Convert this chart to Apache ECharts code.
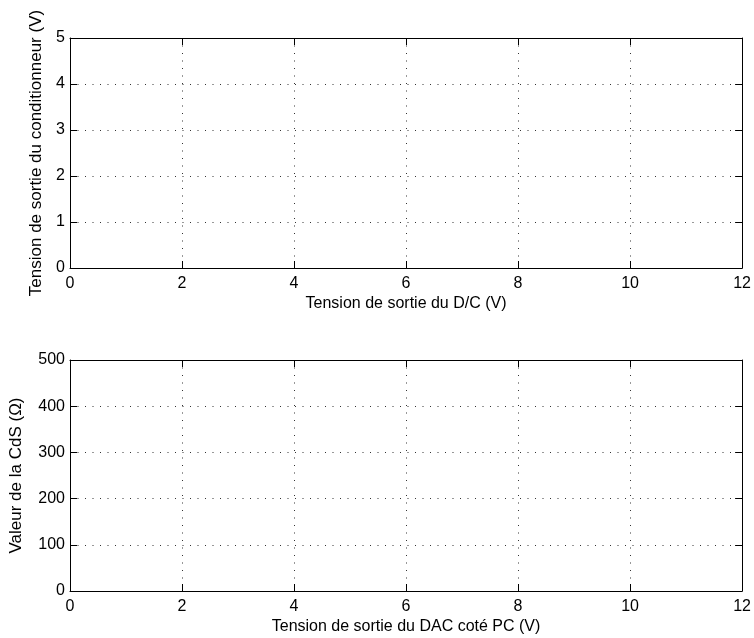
<!DOCTYPE html>
<html>
<head>
<meta charset="utf-8">
<script src="https://cdn.jsdelivr.net/npm/echarts@6/dist/echarts.min.js"></script>
<style>html,body{margin:0;padding:0;background:#fff}#c{width:754px;height:638px}</style>
</head>
<body>
<div id="c"></div>
<script>
// Top panel
var topXMin = 0, topXMax = 12, topXInterval = 2;
var topYMin = 0, topYMax = 5, topYInterval = 1;
var topXLabel = 'Tension de sortie du D/C (V)';
var topYLabel = 'Tension de sortie du conditionneur (V)';
var topSeriesX = [];
var topSeriesY = [];
// Bottom panel
var botXMin = 0, botXMax = 12, botXInterval = 2;
var botYMin = 0, botYMax = 500, botYInterval = 100;
var botXLabel = 'Tension de sortie du DAC coté PC (V)';
var botYLabel = 'Valeur de la CdS (Ω)';
var botSeriesX = [];
var botSeriesY = [];

function pairs(xs, ys){ return xs.map(function(x,i){return [x, ys[i]];}); }

var FONT = 'Liberation Sans, Arial, Helvetica, sans-serif';
var gridLine = {show:true, lineStyle:{color:'#333', type:[1,6.5], width:1}};
var axisLine = {show:true, onZero:false, lineStyle:{color:'#000', width:1}};
var tick = {show:true, inside:true, length:7, lineStyle:{color:'#000'}};
var lbl = {color:'#000', fontFamily:FONT, fontSize:16};

function mainX(gi, min, max, iv, name, gap){
  return {type:'value', gridIndex:gi, min:min, max:max, interval:iv, position:'bottom',
    name:name, nameLocation:'middle', nameGap:gap,
    nameTextStyle:{color:'#000', fontFamily:FONT, fontSize:16},
    axisLine:axisLine, axisTick:tick, axisLabel:Object.assign({margin:8}, lbl), splitLine:gridLine};
}
function boxX(gi, min, max, iv){
  return {type:'value', gridIndex:gi, min:min, max:max, interval:iv, position:'top',
    axisLine:axisLine, axisTick:tick, axisLabel:{show:false}, splitLine:{show:false}};
}
function mainY(gi, min, max, iv, name, gap){
  return {type:'value', gridIndex:gi, min:min, max:max, interval:iv, position:'left',
    name:name, nameLocation:'middle', nameGap:gap,
    nameTextStyle:{color:'#000', fontFamily:FONT, fontSize:17},
    axisLine:axisLine, axisTick:tick, axisLabel:Object.assign({margin:5}, lbl), splitLine:gridLine};
}
function boxY(gi, min, max, iv){
  return {type:'value', gridIndex:gi, min:min, max:max, interval:iv, position:'right',
    axisLine:axisLine, axisTick:tick, axisLabel:{show:false}, splitLine:{show:false}};
}

var chart = echarts.init(document.getElementById('c'), null, {renderer:'canvas'});
chart.setOption({
  backgroundColor:'#fff',
  animation:false,
  grid:[
    {left:70, right:11, top:38, height:230},
    {left:70, right:11, top:360, height:231}
  ],
  xAxis:[
    mainX(0, topXMin, topXMax, topXInterval, topXLabel, 28),
    boxX(0, topXMin, topXMax, topXInterval),
    mainX(1, botXMin, botXMax, botXInterval, botXLabel, 28),
    boxX(1, botXMin, botXMax, botXInterval)
  ],
  yAxis:[
    mainY(0, topYMin, topYMax, topYInterval, topYLabel, 25),
    boxY(0, topYMin, topYMax, topYInterval),
    mainY(1, botYMin, botYMax, botYInterval, botYLabel, 45),
    boxY(1, botYMin, botYMax, botYInterval)
  ],
  series:[
    {type:'line', xAxisIndex:0, yAxisIndex:0, data:pairs(topSeriesX, topSeriesY), showSymbol:false, lineStyle:{color:'#0000ff'}},
    {type:'line', xAxisIndex:2, yAxisIndex:2, data:pairs(botSeriesX, botSeriesY), showSymbol:false, lineStyle:{color:'#0000ff'}}
  ]
});
</script>
</body>
</html>
